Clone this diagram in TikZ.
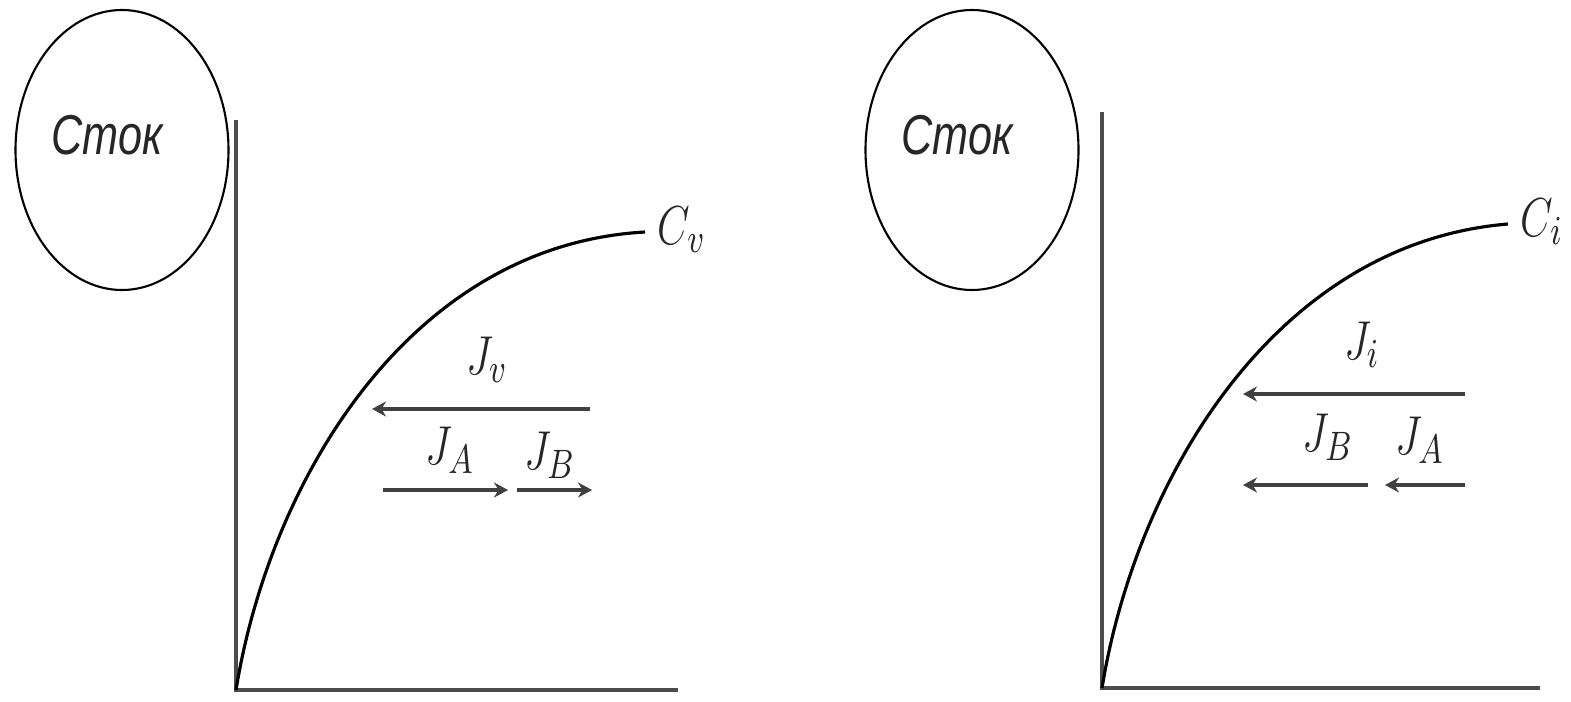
\documentclass[tikz,border=0pt]{standalone}
\usepackage{fontspec}
\newfontfamily\cyrsans{Liberation Sans}
\usetikzlibrary{shapes.geometric, arrows.meta, positioning}

\begin{document}
\begin{tikzpicture}[
    sink/.style={ellipse, draw, line width=0.6pt, minimum width=2.13cm, minimum height=2.80cm, inner sep=0pt},
    sinktext/.style={font=\cyrsans\itshape\fontsize{12.3}{14}\selectfont, text=black!85, yscale=1.3, inner sep=0pt},
    lbl/.style={font=\fontsize{13}{15}\selectfont, text=black!85, yscale=1.3, inner sep=0pt},
    axis/.style={line width=0.9pt, black!70},
    curve/.style={line width=0.9pt, black},
    flow/.style={-{Stealth[length=1.4mm, width=1.5mm]}, line width=1.2pt, black!75}
]
\useasboundingbox (0,0) rectangle (15.71,7.01);

% Left panel
\node[sink] (sinkL) at (1.22,5.51) {};
\node[sinktext] (stokL) at (1.07,5.66) {Сток};
\coordinate (oL) at (2.36,0.11);
\coordinate (yL) at (2.36,5.81);
\coordinate (xL) at (6.78,0.11);
\coordinate (cL) at (6.45,4.69);
\draw[axis] (yL) -- (oL) -- (xL);
\draw[curve] (oL) .. controls (2.70,2.21) and (4.10,4.56) .. (cL);
\node[lbl, anchor=west] (CvL) at ([xshift=0.12cm,yshift=0.02cm]cL) {$C_v$};

\coordinate (jvS) at (5.90,2.92);
\coordinate (jvE) at (3.72,2.92);
\coordinate (jaS) at (3.83,2.11);
\coordinate (jaE) at (5.08,2.11);
\coordinate (jbS) at (5.17,2.11);
\coordinate (jbE) at (5.92,2.11);
\draw[flow] (jvS) -- (jvE);
\draw[flow] (jaS) -- (jaE);
\draw[flow] (jbS) -- (jbE);
\node[lbl] (JvL) at (4.87,3.41) {$J_v$};
\node[lbl] (JaL) at (4.50,2.51) {$J_A$};
\node[lbl] (JbL) at (5.50,2.46) {$J_B$};

% Right panel
\node[sink] (sinkR) at (9.72,5.51) {};
\node[sinktext] (stokR) at (9.57,5.66) {Сток};
\coordinate (oR) at (11.02,0.13);
\coordinate (yR) at (11.02,5.89);
\coordinate (xR) at (15.40,0.13);
\coordinate (cR) at (15.08,4.77);
\draw[axis] (yR) -- (oR) -- (xR);
\draw[curve] (oR) .. controls (11.36,2.23) and (12.76,4.58) .. (cR);
\node[lbl, anchor=west] (CiR) at ([xshift=0.12cm,yshift=0.02cm]cR) {$C_i$};

\coordinate (jiS) at (14.65,3.07);
\coordinate (jiE) at (12.43,3.07);
\coordinate (jbS2) at (13.68,2.16);
\coordinate (jbE2) at (12.43,2.16);
\coordinate (jaS2) at (14.65,2.16);
\coordinate (jaE2) at (13.85,2.16);
\draw[flow] (jiS) -- (jiE);
\draw[flow] (jbS2) -- (jbE2);
\draw[flow] (jaS2) -- (jaE2);
\node[lbl] (JiR) at (13.62,3.56) {$J_i$};
\node[lbl] (JbR) at (13.28,2.64) {$J_B$};
\node[lbl] (JaR) at (14.20,2.61) {$J_A$};

\end{tikzpicture}
\end{document}
